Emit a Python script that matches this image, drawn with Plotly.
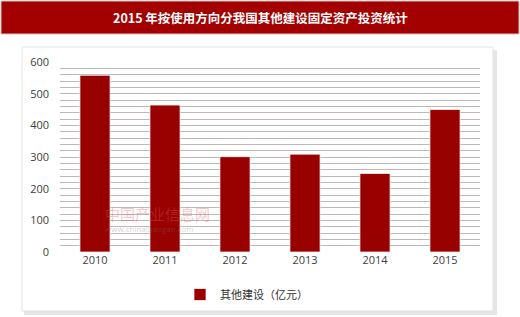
import plotly.graph_objects as go

years = ["2010", "2011", "2012", "2013", "2014", "2015"]
values = [558, 464, 301, 309, 248, 450]
series_name = "其他建设（亿元）"
title_text = "2015 年按使用方向分我国其他建设固定资产投资统计"

W, H = 520, 317
def px(x): return x / W
def py(y): return 1 - y / H

fig = go.Figure()
fig.add_trace(go.Bar(
    x=years, y=values, name=series_name,
    marker=dict(color="#990000", line=dict(color="rgba(255,255,255,0.7)", width=1)),
    width=0.43, showlegend=True,
))

shapes = [
    dict(type="rect", xref="paper", yref="paper", x0=px(24), x1=px(497), y0=py(315), y1=py(50),
         fillcolor="rgba(0,0,0,0.10)", line=dict(width=0), layer="below"),
    dict(type="rect", xref="paper", yref="paper", x0=px(22), x1=px(493), y0=py(311), y1=py(47),
         fillcolor="white", line=dict(color="#e4e4e4", width=1), layer="below"),
    dict(type="rect", xref="paper", yref="paper", x0=px(1), x1=px(519), y0=py(34), y1=py(1),
         fillcolor="#a30000", line=dict(color="#d8c0c0", width=1), layer="below"),
]

fig.update_layout(
    width=W, height=H,
    margin=dict(l=0, r=0, t=0, b=0),
    paper_bgcolor="white",
    plot_bgcolor="#f8f1f1",
    shapes=shapes,
    xaxis=dict(domain=[px(60), px(480)], showgrid=False, showline=False, ticks="",
               tickfont=dict(family="Open Sans", size=11, color="#404040"), automargin=False),
    yaxis=dict(domain=[py(252), py(62)], range=[0, 600], dtick=100,
               showgrid=True, gridcolor="#bfb8b8", gridwidth=1, zeroline=False,
               minor=dict(dtick=20, showgrid=True, gridcolor="#bfb8b8", gridwidth=1),
               ticks="", ticklabelstandoff=10,
               tickfont=dict(family="Open Sans", size=11, color="#404040"), automargin=False),
    legend=dict(orientation="h", x=px(180), y=py(280), xanchor="left", yanchor="top",
                font=dict(family="Noto Sans CJK SC", size=11, color="#303030"),
                itemwidth=30, bgcolor="rgba(0,0,0,0)"),
    annotations=[
        dict(text="<b>" + title_text + "</b>", xref="paper", yref="paper",
             x=0.5, y=py(17), xanchor="center", yanchor="middle", showarrow=False,
             font=dict(family="Noto Sans CJK SC", size=12.5, color="white")),
        dict(text="中国产业信息网", xref="paper", yref="paper", x=px(103), y=py(213),
             xanchor="left", yanchor="middle", showarrow=False,
             font=dict(family="Noto Sans CJK SC", size=15, color="rgba(230,90,90,0.35)")),
        dict(text="www.chinaibaogao.com", xref="paper", yref="paper", x=px(103), y=py(229),
             xanchor="left", yanchor="middle", showarrow=False,
             font=dict(family="Open Sans", size=8, color="rgba(120,120,120,0.35)")),
    ],
)

fig.write_html("out.html")
